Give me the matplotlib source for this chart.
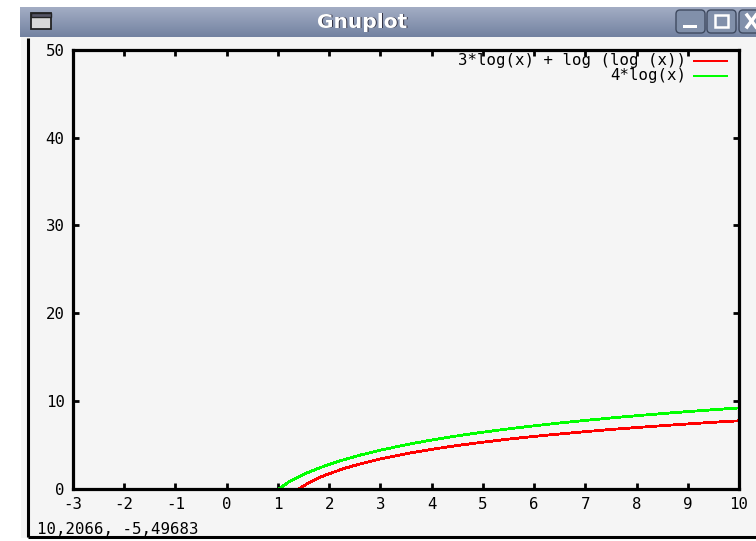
import numpy as np
import matplotlib
matplotlib.use("Agg")
import matplotlib.pyplot as plt
from matplotlib.patches import Rectangle, FancyBboxPatch

# ---- data ----
red_label = "3*log(x) + log (log (x))"
green_label = "4*log(x)"
red_x = [1.42, 1.5, 1.6, 1.73, 1.86, 2.0, 2.3, 2.6, 3.0, 3.5, 4.0, 4.5, 5.0,
         5.5, 6.0, 6.5, 7.0, 7.5, 8.0, 8.5, 9.0, 9.5, 10.0]
red_y = [0.0, 0.31, 0.66, 1.04, 1.39, 1.71, 2.32, 2.82, 3.39, 3.98, 4.49, 4.92,
         5.30, 5.65, 5.96, 6.24, 6.50, 6.75, 6.97, 7.18, 7.38, 7.57, 7.74]
green_x = [1.03, 1.2, 1.33, 1.46, 1.6, 1.8, 2.0, 2.3, 2.6, 3.0, 3.5, 4.0, 4.5,
           5.0, 5.5, 6.0, 6.5, 7.0, 7.5, 8.0, 8.5, 9.0, 9.5, 10.0]
green_y = [0.0, 0.73, 1.15, 1.52, 1.88, 2.35, 2.77, 3.33, 3.82, 4.39, 5.01, 5.55,
           6.02, 6.44, 6.82, 7.17, 7.49, 7.78, 8.06, 8.32, 8.56, 8.79, 9.00, 9.21]
x_ticks = list(range(-3, 11))
y_ticks = [0, 10, 20, 30, 40, 50]
status_text = "10,2066, -5,49683"
window_title = "Gnuplot"

W, H = 756, 541
FS = 11.3
MONO = "DejaVu Sans Mono"
fig = plt.figure(figsize=(W / 100, H / 100), dpi=100)
fig.patch.set_facecolor("white")

# ---- window chrome (pixel coordinates) ----
bg = fig.add_axes([0, 0, 1, 1], zorder=0)
bg.axis("off")
bg.add_patch(Rectangle((21, 37), W - 21, 501, facecolor="#f5f5f5", edgecolor="none"))
bg.plot([28, 28], [38, 537], color="black", lw=2.2, solid_capstyle="butt")
bg.plot([28, W], [537, 537], color="black", lw=2.2, solid_capstyle="butt")
# title bar gradient
grad = np.linspace(0, 1, 64).reshape(-1, 1)
top = np.array([0.64, 0.68, 0.77])
bot = np.array([0.45, 0.51, 0.63])
img = top[None, None, :] * (1 - grad[:, :, None]) + bot[None, None, :] * grad[:, :, None]
bg.imshow(img, extent=(20, W, 37, 7), aspect="auto", interpolation="bilinear", zorder=1)
bg.set_xlim(0, W)
bg.set_ylim(H, 0)
# window icon
bg.add_patch(Rectangle((31, 13), 20, 16, facecolor="#d8d8d8", edgecolor="#222222", lw=1.3, zorder=2))
bg.add_patch(Rectangle((31, 13), 20, 4, facecolor="#555566", edgecolor="#222222", lw=1.0, zorder=3))
# title text with shadow
bg.text(363, 23, window_title, ha="center", va="center", fontsize=14.5,
        fontweight="bold", color="#333344", family="DejaVu Sans", zorder=3)
bg.text(362, 22, window_title, ha="center", va="center", fontsize=14.5,
        fontweight="bold", color="white", family="DejaVu Sans", zorder=4)
# buttons
for bx in (676, 707, 739):
    bg.add_patch(FancyBboxPatch((bx, 10), 29, 23, boxstyle="round,pad=0,rounding_size=4",
                                facecolor="#8190aa", edgecolor="#3f4a60", lw=1.0, zorder=2))
bg.add_patch(Rectangle((683, 25), 14, 3, facecolor="white", edgecolor="none", zorder=3))
bg.add_patch(Rectangle((715, 15), 13, 12, facecolor="none", edgecolor="white", lw=1.8, zorder=3))
bg.plot([747, 756], [15, 27], color="white", lw=2.5, zorder=3)
bg.plot([747, 756], [27, 15], color="white", lw=2.5, zorder=3)
# status line
bg.text(37, 529, status_text, ha="left", va="center", fontsize=FS,
        family=MONO, color="black", zorder=3)

# ---- plot ----
ax = fig.add_axes([73 / W, 1 - 488.7 / H, (739 - 73) / W, (488.7 - 50) / H], zorder=2)
ax.set_facecolor("#f5f5f5")
ax.plot(red_x, red_y, color="#ff0000", lw=1.3, antialiased=False, label=red_label)
ax.plot(green_x, green_y, color="#00ff00", lw=1.3, antialiased=False, label=green_label)
ax.set_xlim(-3, 10)
ax.set_ylim(0, 50)
ax.set_xticks(x_ticks)
ax.set_yticks(y_ticks)
ax.set_xticklabels([str(v) for v in x_ticks], family=MONO, fontsize=FS)
ax.set_yticklabels([str(v) for v in y_ticks], family=MONO, fontsize=FS)
ax.tick_params(direction="in", length=4, width=2, top=True, right=True, colors="black")
ax.tick_params(axis="x", pad=6)
ax.tick_params(axis="y", pad=6)
for s in ax.spines.values():
    s.set_linewidth(2.3)
    s.set_color("black")

# legend drawn manually (gnuplot style)
leg_y = [0.975, 0.941]
for (lab, col), yy in zip([(red_label, "#ff0000"), (green_label, "#00ff00")], leg_y):
    ax.text(0.921, yy, lab, transform=ax.transAxes, ha="right", va="center",
            fontsize=FS, family=MONO, color="black")
    ax.plot([0.933, 0.982], [yy, yy], transform=ax.transAxes, color=col, lw=1.3,
            antialiased=False)

fig.savefig("out.png", dpi=100)
